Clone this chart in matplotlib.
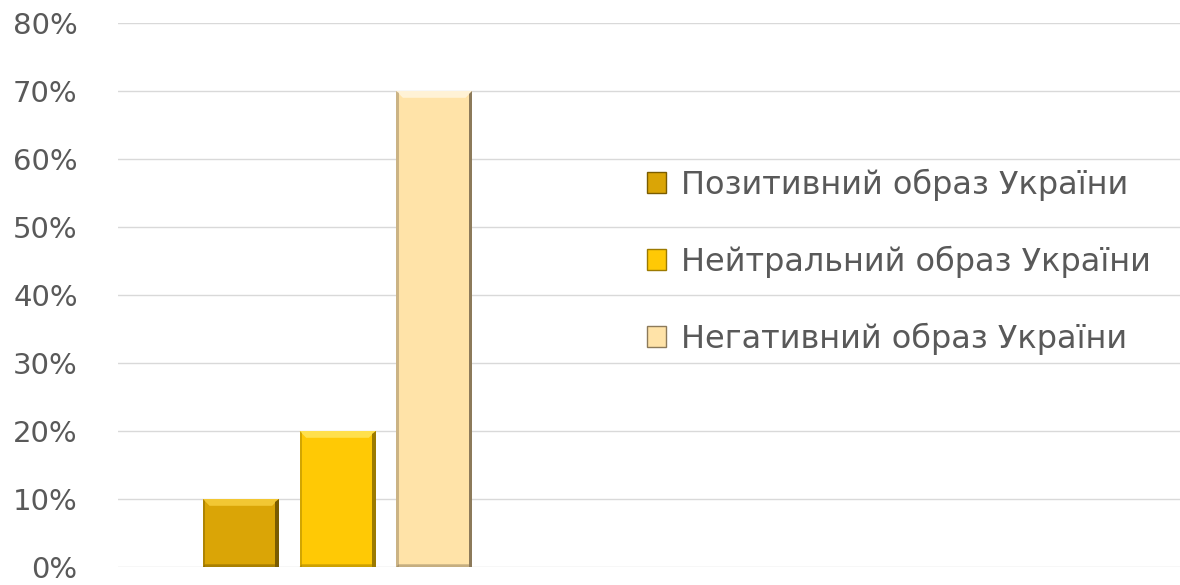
import matplotlib
matplotlib.use("Agg")
from matplotlib import pyplot as plt
from matplotlib.patches import Polygon, Patch
from matplotlib.ticker import FuncFormatter

# Chart data
labels = ["Позитивний образ України", "Нейтральний образ України", "Негативний образ України"]
values = [10, 20, 70]
colors = ["#DAA506", "#FFC905", "#FFE3A8"]
dark = ["#7A5C00", "#9C7A00", "#8C7A5A"]
light = ["#F2C733", "#FFE04D", "#FFF2D6"]

fig = plt.figure(figsize=(11.8, 5.85), dpi=100)
ax = fig.add_axes([118 / 1180, 18 / 585, 1 - 118 / 1180, 544 / 585])

width = 0.25
step = 0.318
xs = [(i - 1) * step for i in range(len(values))]

bars = ax.bar(xs, values, width=width, color=colors, zorder=2)

# simple bevel look on each bar
for bar, c, d, l in zip(bars, colors, dark, light):
    x0 = bar.get_x()
    x1 = x0 + bar.get_width()
    h = bar.get_height()
    bx = 0.022
    by = 1.0
    ax.add_patch(Polygon([(x0, h), (x1, h), (x1 - bx, h - by), (x0 + bx, h - by)],
                         color=l, zorder=3, lw=0))
    ax.add_patch(Polygon([(x1, h), (x1, 0), (x1 - bx * 0.5, 0), (x1 - bx * 0.5, h - by * 0.5)],
                         color=d, zorder=3, lw=0))
    ax.add_patch(Polygon([(x0, h), (x0, 0), (x0 + bx * 0.35, 0), (x0 + bx * 0.35, h - by * 0.35)],
                         color=d, alpha=0.45, zorder=3, lw=0))
    ax.add_patch(Polygon([(x0, 0), (x1, 0), (x1 - bx * 0.5, by * 0.4), (x0 + bx * 0.35, by * 0.4)],
                         color=d, alpha=0.5, zorder=3, lw=0))

ax.set_ylim(0, 80)
ax.set_xlim(-0.722, 2.771)
ax.set_yticks(range(0, 81, 10))
ax.yaxis.set_major_formatter(FuncFormatter(lambda v, p: f"{int(v)}%"))
ax.set_xticks([])
ax.tick_params(axis="y", length=0, pad=29, labelsize=21, labelcolor="#595959")
ax.grid(axis="y", color="#D9D9D9", linewidth=1, zorder=0)
for s in ax.spines.values():
    s.set_visible(False)

handles = [Patch(facecolor=c, edgecolor=d, linewidth=1) for c, d in zip(colors, dark)]
fig.legend(handles, labels, loc="upper left", bbox_to_anchor=(0.524, 0.761),
           frameon=False, fontsize=23, labelcolor="#595959",
           handlelength=0.6, handleheight=0.6, handletextpad=0.45, labelspacing=1.4)

fig.savefig("out.png", dpi=100)
